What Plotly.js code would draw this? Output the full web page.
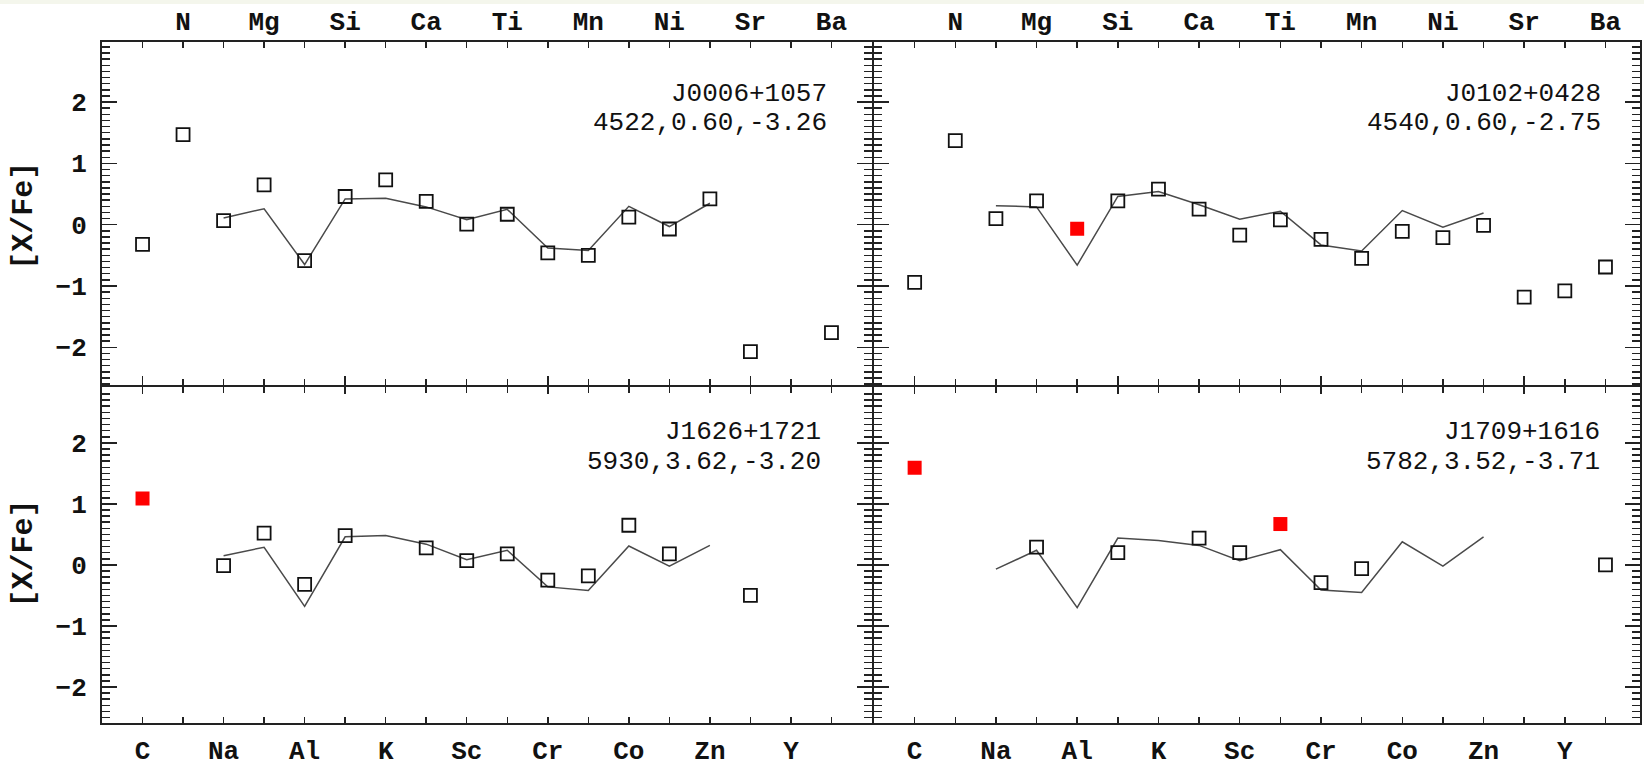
<!DOCTYPE html>
<html><head><meta charset="utf-8">
<script src="https://cdn.plot.ly/plotly-3.0.1.min.js"></script>
<style>body{margin:0;background:#fff}</style>
</head><body><div id="chart" style="width:1644px;height:767px"></div>
<script>
const elements = ['C','N','Na','Mg','Al','Si','K','Ca','Sc','Ti','Cr','Mn','Co','Ni','Zn','Sr','Y','Ba'];
const topLabels = ['N','Mg','Si','Ca','Ti','Mn','Ni','Sr','Ba'];
const bottomLabels = ['C','Na','Al','K','Sc','Cr','Co','Zn','Y'];
const lineElements = ['Na','Mg','Al','Si','K','Ca','Sc','Ti','Cr','Mn','Co','Ni','Zn'];

const starNames = ['J0006+1057','J0102+0428','J1626+1721','J1709+1616'];
const starParams = ['4522,0.60,-3.26','4540,0.60,-2.75','5930,3.62,-3.20','5782,3.52,-3.71'];

// observed [X/Fe], same order as elements (null = not measured)
const obsJ0006 = [-0.32, 1.47, 0.065, 0.65, -0.585, 0.46, 0.73, 0.38, 0.01, 0.17, -0.46, -0.50, 0.125, -0.07, 0.42, -2.07, null, -1.76];
const obsJ0102 = [-0.94, 1.37, 0.10, 0.39, -0.065, 0.39, 0.58, 0.255, -0.17, 0.08, -0.24, -0.55, -0.11, -0.21, -0.01, -1.18, -1.08, -0.69];
const obsJ1626 = [1.09, null, -0.01, 0.52, -0.32, 0.48, null, 0.28, 0.07, 0.18, -0.25, -0.18, 0.65, 0.18, null, -0.50, null, null];
const obsJ1709 = [1.59, null, null, 0.29, null, 0.20, null, 0.44, 0.20, 0.67, -0.29, -0.06, null, null, null, null, null, 0.00];

// elements drawn as filled red squares
const redJ0006 = [];
const redJ0102 = ['Al'];
const redJ1626 = ['C'];
const redJ1709 = ['C', 'Ti'];

// comparison trend line, same order as lineElements
const lineJ0006 = [0.11, 0.26, -0.65, 0.42, 0.43, 0.29, 0.08, 0.25, -0.38, -0.42, 0.30, -0.03, 0.35];
const lineJ0102 = [0.31, 0.29, -0.66, 0.46, 0.54, 0.325, 0.09, 0.22, -0.33, -0.43, 0.23, -0.04, 0.19];
const lineJ1626 = [0.15, 0.29, -0.68, 0.46, 0.48, 0.34, 0.085, 0.24, -0.36, -0.42, 0.31, -0.02, 0.32];
const lineJ1709 = [-0.07, 0.24, -0.70, 0.44, 0.40, 0.32, 0.07, 0.25, -0.41, -0.45, 0.38, -0.02, 0.46];

const obsAll = [obsJ0006, obsJ0102, obsJ1626, obsJ1709];
const redAll = [redJ0006, redJ0102, redJ1626, redJ1709];
const lineAll = [lineJ0006, lineJ0102, lineJ1626, lineJ1709];

const pos = n => elements.indexOf(n) + 1;
const axIds = [['x','y'],['x2','y2'],['x3','y3'],['x4','y4']];

const traces = [];
for (let p = 0; p < 4; p++) {
  const [xa, ya] = axIds[p];
  traces.push({
    x: lineElements.map(pos), y: lineAll[p], xaxis: xa, yaxis: ya,
    type: 'scatter', mode: 'lines', line: {color: '#4a4a4a', width: 1.5},
    hoverinfo: 'skip', showlegend: false
  });
  const ox = [], oy = [], rx = [], ry = [];
  elements.forEach((e, i) => {
    const v = obsAll[p][i];
    if (v === null) return;
    if (redAll[p].includes(e)) { rx.push(i + 1); ry.push(v); }
    else { ox.push(i + 1); oy.push(v); }
  });
  traces.push({
    x: ox, y: oy, xaxis: xa, yaxis: ya, type: 'scatter', mode: 'markers',
    marker: {symbol: 'square-open', size: 13, color: '#111', line: {width: 1.8, color: '#111'}},
    showlegend: false
  });
  traces.push({
    x: rx, y: ry, xaxis: xa, yaxis: ya, type: 'scatter', mode: 'markers',
    marker: {symbol: 'square', size: 14, color: '#ff0000', line: {width: 0}},
    showlegend: false
  });
}
// empty traces to anchor the overlay tick axes
['x5','x6','x7','x8'].forEach((xa, k) => {
  traces.push({x: [], y: [], xaxis: xa, yaxis: axIds[k][1], type: 'scatter', mode: 'markers', showlegend: false});
});

const tickFont = {family: '"Liberation Mono", "Courier New", monospace', size: 26, color: '#111', weight: 700};
const annFont = {family: '"Liberation Mono", "Courier New", monospace', size: 26, color: '#111'};
const axColor = '#222';
const allPos = elements.map((e, i) => i + 1);

const gx = 1 / 1538, gy = 1 / 681;
const xDomL = [0, 0.5013 - gx], xDomR = [0.5013 + gx, 1];
const yDomT = [0.4944 + gy, 1], yDomB = [0, 0.4944 - gy];
const xRangeL = [0, 19], xRangeR = [0, 18.85];
const yRangeT = [-2.62, 2.98], yRangeB = [-2.59, 2.91];

function xAxis(dom, rng, anchor, isTop) {
  return {
    domain: dom, range: rng, anchor: anchor, side: isTop ? 'top' : 'bottom',
    tickmode: 'array',
    tickvals: (isTop ? topLabels : bottomLabels).map(pos),
    ticktext: isTop ? topLabels : bottomLabels,
    ticks: 'inside', ticklen: 6, tickwidth: 1.5, tickcolor: axColor,
    minor: {tickmode: 'array', tickvals: allPos, ticks: 'inside', ticklen: 6, tickwidth: 1.5, tickcolor: axColor},
    showline: true, linewidth: 2, linecolor: axColor, mirror: 'ticks',
    showgrid: false, zeroline: false, tickfont: tickFont,
    ticklabelstandoff: isTop ? 0 : 3, fixedrange: true
  };
}
function yAxis(dom, rng, anchor, labels) {
  return {
    domain: dom, range: rng, anchor: anchor,
    tickmode: 'linear', tick0: 0, dtick: 1,
    ticks: 'inside', ticklen: 15, tickwidth: 1.5, tickcolor: axColor,
    minor: {tick0: 0, dtick: 0.1, ticks: 'inside', ticklen: 8, tickwidth: 1.5, tickcolor: axColor},
    showline: true, linewidth: 2, linecolor: axColor, mirror: 'ticks',
    showgrid: false, zeroline: false, showticklabels: labels, tickfont: tickFont,
    ticklabelstandoff: 8, fixedrange: true
  };
}
function overlayX(base, dom, rng, anchor, side, len) {
  return {
    overlaying: base, domain: dom, range: rng, anchor: anchor, side: side,
    tickmode: 'array', tickvals: [1, 6, 11, 16], ticks: 'inside', ticklen: len,
    tickwidth: 1.5, tickcolor: axColor, showticklabels: false, showline: false,
    showgrid: false, zeroline: false, fixedrange: true
  };
}

const annX = [17.95, 17.94, 17.8, 17.92];
const annY1 = [2.14, 2.14, 2.17, 2.17];
const annY2 = [1.66, 1.66, 1.68, 1.68];
const annotations = [];
for (let p = 0; p < 4; p++) {
  const [xa, ya] = axIds[p];
  annotations.push({xref: xa, yref: ya, x: annX[p], y: annY1[p], text: starNames[p], showarrow: false, xanchor: 'right', yanchor: 'middle', font: annFont});
  annotations.push({xref: xa, yref: ya, x: annX[p], y: annY2[p], text: starParams[p], showarrow: false, xanchor: 'right', yanchor: 'middle', font: annFont});
}
const yTitleFont = {family: '"Liberation Mono", "Courier New", monospace', size: 30, color: '#111', weight: 700};
annotations.push({xref: 'paper', yref: 'paper', x: -0.0507, y: 0.745, text: '[X/Fe]', textangle: -90, showarrow: false, xanchor: 'center', yanchor: 'middle', font: yTitleFont});
annotations.push({xref: 'paper', yref: 'paper', x: -0.0507, y: 0.249, text: '[X/Fe]', textangle: -90, showarrow: false, xanchor: 'center', yanchor: 'middle', font: yTitleFont});

const layout = {
  width: 1644, height: 767,
  margin: {l: 102, r: 4, t: 42, b: 44},
  paper_bgcolor: '#ffffff', plot_bgcolor: '#ffffff',
  showlegend: false,
  xaxis: xAxis(xDomL, xRangeL, 'y', true),
  xaxis2: xAxis(xDomR, xRangeR, 'y2', true),
  xaxis3: xAxis(xDomL, xRangeL, 'y3', false),
  xaxis4: xAxis(xDomR, xRangeR, 'y4', false),
  xaxis5: overlayX('x', xDomL, xRangeL, 'y', 'bottom', 9),
  xaxis6: overlayX('x2', xDomR, xRangeR, 'y2', 'bottom', 9),
  xaxis7: overlayX('x3', xDomL, xRangeL, 'y3', 'top', 7),
  xaxis8: overlayX('x4', xDomR, xRangeR, 'y4', 'top', 7),
  yaxis: yAxis(yDomT, yRangeT, 'x', true),
  yaxis2: yAxis(yDomT, yRangeT, 'x2', false),
  yaxis3: yAxis(yDomB, yRangeB, 'x3', true),
  yaxis4: yAxis(yDomB, yRangeB, 'x4', false),
  annotations: annotations,
  shapes: [{type: 'rect', xref: 'paper', yref: 'paper', x0: -0.07, x1: 1.01, y0: 1.0558, y1: 1.062, fillcolor: '#f4f6ec', line: {width: 0}, layer: 'below'}]
};

Plotly.newPlot('chart', traces, layout, {displayModeBar: false, staticPlot: true});
</script></body></html>
